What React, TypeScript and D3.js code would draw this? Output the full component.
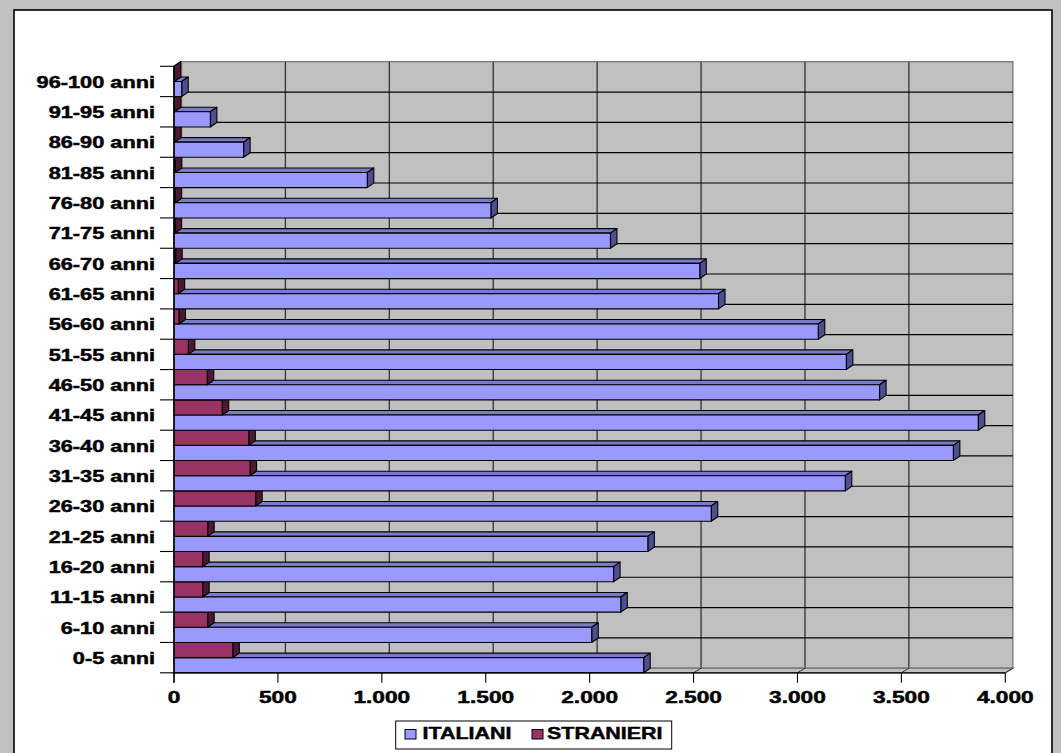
import React from "react";
import * as d3 from "d3";

const categories = [
  "0-5 anni", "6-10 anni", "11-15 anni", "16-20 anni", "21-25 anni",
  "26-30 anni", "31-35 anni", "36-40 anni", "41-45 anni", "46-50 anni",
  "51-55 anni", "56-60 anni", "61-65 anni", "66-70 anni", "71-75 anni",
  "76-80 anni", "81-85 anni", "86-90 anni", "91-95 anni", "96-100 anni",
];
const italiani = [2260, 2010, 2150, 2115, 2280, 2585, 3230, 3750, 3870, 3395, 3235, 3100, 2620, 2530, 2100, 1525, 930, 335, 175, 37];
const stranieri = [283, 162, 138, 138, 162, 393, 366, 360, 232, 160, 69, 24, 20, 8, 5, 5, 6, 3, 2, 1];
const valueTicks = [0, 500, 1000, 1500, 2000, 2500, 3000, 3500, 4000];
const seriesNames = ["ITALIANI", "STRANIERI"];

const W = 1061;
const H = 753;
const X0 = 174;
const X1 = 1005.3;
const YT = 66.3;
const YB = 672.8;
const WDX = 7.5;
const WDY = -4.6;
const BDX = 6.5;
const BDY = -4.5;

const colors = {
  blue: { front: "#9999FF", top: "#7a7acc", side: "#4f4f8f" },
  maroon: { front: "#993366", top: "#7a2952", side: "#4c1933" },
};

const fmt = (v: number) => d3.format(",")(v).replace(/,/g, ".");

function Bar3D({ x0, x1, y0, y1, c }: { x0: number; x1: number; y0: number; y1: number; c: { front: string; top: string; side: string } }) {
  const top = `M${x0},${y0} L${x0 + BDX},${y0 + BDY} L${x1 + BDX},${y0 + BDY} L${x1},${y0} Z`;
  const side = `M${x1},${y0} L${x1 + BDX},${y0 + BDY} L${x1 + BDX},${y1 + BDY} L${x1},${y1} Z`;
  return (
    <g stroke="#000" strokeWidth={1.1} strokeLinejoin="round">
      <path d={top} fill={c.top} />
      <path d={side} fill={c.side} />
      <rect x={x0} y={y0} width={Math.max(0, x1 - x0)} height={y1 - y0} fill={c.front} />
    </g>
  );
}

export default function App() {
  const x = d3.scaleLinear().domain([0, 4000]).range([X0, X1]);
  const topToBottom = [...categories].reverse();
  const y = d3.scaleBand<string>().domain(topToBottom).range([YT, YB]).paddingInner(0).paddingOuter(0);
  const bw = y.bandwidth();
  const half = bw / 2;
  const boundaries = d3.range(categories.length + 1).map((i) => YT + i * bw);

  const labelFont = {
    fontFamily: "'Liberation Sans', Arial, sans-serif",
    fontWeight: 700 as const,
    stroke: "#000",
    strokeWidth: 0.45,
  };
  const order = d3.range(categories.length);

  return (
    <svg width={W} height={H} style={{ position: "absolute", left: 0, top: 0 }} xmlns="http://www.w3.org/2000/svg">
      <rect x={0} y={0} width={W} height={H} fill="#c0c0c0" />
      <rect x={14} y={10} width={1038} height={760} fill="#ffffff" stroke="#000" strokeWidth={1.6} />

      {/* back wall */}
      <rect x={X0 + WDX} y={YT + WDY} width={X1 - X0} height={YB - YT} fill="#c0c0c0" stroke="#808080" strokeWidth={1.5} />
      {valueTicks.slice(1, -1).map((t) => (
        <line key={"vg" + t} x1={x(t) + WDX} x2={x(t) + WDX} y1={YT + WDY} y2={YB + WDY} stroke="#333" strokeWidth={1.3} />
      ))}
      {boundaries.slice(1, -1).map((b, i) => (
        <line key={"hg" + i} x1={X0 + WDX} x2={X1 + WDX} y1={b + WDY} y2={b + WDY} stroke="#000" strokeWidth={1.2} />
      ))}
      {/* left wall */}
      <path d={`M${X0},${YT} L${X0 + WDX},${YT + WDY} L${X0 + WDX},${YB + WDY} L${X0},${YB} Z`} fill="#c0c0c0" stroke="#808080" strokeWidth={1} />
      {/* floor */}
      <path d={`M${X0},${YB} L${X0 + WDX},${YB + WDY} L${X1 + WDX},${YB + WDY} L${X1},${YB} Z`} fill="#c0c0c0" stroke="#808080" strokeWidth={1.5} />
      {valueTicks.map((t) => (
        <line key={"fg" + t} x1={x(t)} y1={YB} x2={x(t) + WDX} y2={YB + WDY} stroke="#333" strokeWidth={1} />
      ))}

      {/* bars, drawn bottom to top */}
      {order.map((i) => {
        const cat = categories[i];
        const gy = y(cat) as number;
        return (
          <g key={cat}>
            <Bar3D x0={x(0)} x1={x(italiani[i])} y0={gy + half} y1={gy + bw} c={colors.blue} />
            <Bar3D x0={x(0)} x1={x(stranieri[i])} y0={gy} y1={gy + half} c={colors.maroon} />
          </g>
        );
      })}

      {/* axes */}
      <line x1={X0} x2={X0} y1={YT} y2={YB + 10} stroke="#000" strokeWidth={1.3} />
      {boundaries.map((b, i) => (
        <line key={"ct" + i} x1={160} x2={X0} y1={b} y2={b} stroke="#000" strokeWidth={1.1} />
      ))}
      <line x1={X0} x2={X1} y1={YB} y2={YB} stroke="#000" strokeWidth={1.3} />
      {valueTicks.map((t) => (
        <line key={"vt" + t} x1={x(t)} x2={x(t)} y1={YB} y2={YB + 10} stroke="#000" strokeWidth={1.1} />
      ))}

      {/* category labels */}
      {categories.map((c) => (
        <text
          key={"cl" + c}
          transform={`translate(155,${(y(c) as number) + half + 6.2}) scale(1.36,1)`}
          textAnchor="end"
          fontSize={16}
          fill="#000"
          {...labelFont}
        >
          {c}
        </text>
      ))}
      {/* value labels */}
      {valueTicks.map((t) => (
        <text
          key={"vl" + t}
          transform={`translate(${x(t)},703.3) scale(1.42,1)`}
          textAnchor="middle"
          fontSize={16}
          fill="#000"
          {...labelFont}
        >
          {fmt(t)}
        </text>
      ))}

      {/* legend */}
      <rect x={395.7} y={721} width={276} height={28} fill="#fff" stroke="#000" strokeWidth={1} />
      <rect x={405} y={729.5} width={11} height={9.5} fill={colors.blue.front} stroke="#000" strokeWidth={1} />
      <text transform="translate(422.5,739.3) scale(1.3,1)" fontSize={16.5} fill="#000" {...labelFont}>
        {seriesNames[0]}
      </text>
      <rect x={532} y={729.5} width={11} height={9.5} fill={colors.maroon.front} stroke="#000" strokeWidth={1} />
      <text transform="translate(547,739.3) scale(1.3,1)" fontSize={16.5} fill="#000" {...labelFont}>
        {seriesNames[1]}
      </text>
    </svg>
  );
}
